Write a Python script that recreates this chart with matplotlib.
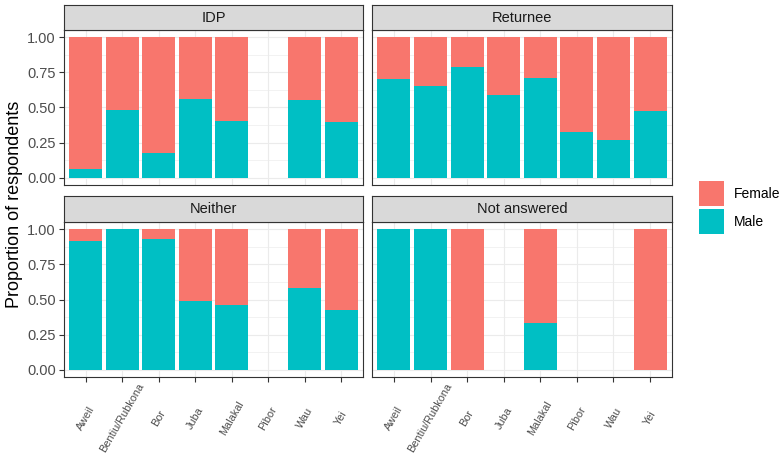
import numpy as np
import matplotlib
matplotlib.use("Agg")
import matplotlib.pyplot as plt
import matplotlib.transforms as mtransforms
from matplotlib.patches import Rectangle

plt.rcParams['font.family'] = ['Liberation Sans', 'DejaVu Sans']

# Data: share of respondents by sex, per location and displacement status
locations = ["Aweil", "Bentiu/Rubkona", "Bor", "Juba", "Malakal", "Pibor", "Wau", "Yei"]
panels = ["IDP", "Returnee", "Neither", "Not answered"]

# proportion male (None = no respondents at that location)
male_idp = [0.064, 0.483, 0.175, 0.557, 0.403, None, 0.552, 0.398]
male_returnee = [0.701, 0.654, 0.784, 0.592, 0.706, 0.327, 0.268, 0.474]
male_neither = [0.915, 1.0, 0.929, 0.486, 0.460, None, 0.583, 0.424]
male_not_answered = [1.0, 1.0, 0.0, None, 0.333, None, None, 0.0]

male_by_panel = [male_idp, male_returnee, male_neither, male_not_answered]

FEMALE = "#F8766D"
MALE = "#00BFC4"
GRID = "#EBEBEB"
BORDER = "#333333"

W, H = 784, 459
fig = plt.figure(figsize=(W / 100, H / 100), dpi=100)

def fx(px):
    return px / W

def fy(py):
    return 1 - py / H

col_x = [(64, 363), (372, 672)]
row_y = [(5, 30, 185), (196, 222, 377)]  # strip top, panel top, panel bottom

xpos = np.arange(1, len(locations) + 1)

for i, name in enumerate(panels):
    r, c = divmod(i, 2)
    x0, x1 = col_x[c]
    st, pt, pb = row_y[r]
    ax = fig.add_axes([fx(x0), fy(pb), fx(x1 - x0), (pb - pt) / H])
    sax = fig.add_axes([fx(x0), fy(pt), fx(x1 - x0), (pt - st) / H])

    male = male_by_panel[i]
    m = np.array([np.nan if v is None else v for v in male])
    f = 1 - m
    m0 = np.nan_to_num(m)
    f0 = np.nan_to_num(f)
    ax.bar(xpos, m0, width=0.9, color=MALE, zorder=2, linewidth=0)
    ax.bar(xpos, f0, bottom=m0, width=0.9, color=FEMALE, zorder=2, linewidth=0)

    ax.set_xlim(0.4, len(locations) + 0.6)
    ax.set_ylim(-0.05, 1.05)
    ax.set_yticks([0, 0.25, 0.5, 0.75, 1.0])
    ax.set_yticks([0.125, 0.375, 0.625, 0.875], minor=True)
    ax.set_xticks(xpos)
    ax.grid(True, which="major", color=GRID, linewidth=0.8, zorder=0)
    ax.grid(True, which="minor", axis="y", color=GRID, linewidth=0.45, zorder=0)
    ax.set_axisbelow(True)
    for s in ax.spines.values():
        s.set_color(BORDER)
        s.set_linewidth(0.8)
    ax.tick_params(which="minor", length=0)
    ax.tick_params(which="major", length=3.5, width=0.8, color=BORDER,
                   labelcolor="#4D4D4D", labelsize=10.5, pad=2.5)
    ax.tick_params(axis="x", labelbottom=False)

    if c == 0:
        ax.set_yticklabels(["0.00", "0.25", "0.50", "0.75", "1.00"])
    else:
        ax.tick_params(axis="y", length=0, labelleft=False)
    if r == 1:
        # rotated category labels, centred under each tick
        trans = mtransforms.blended_transform_factory(ax.transData, ax.transAxes)
        yl = -41 / (pb - pt)
        for xp, lab in zip(xpos, locations):
            ax.text(xp, yl, lab, transform=trans, rotation=60,
                    ha="center", va="center", rotation_mode="anchor",
                    fontsize=7.8, color="#4D4D4D", clip_on=False)
    else:
        ax.tick_params(axis="x", length=0)

    sax.set_xticks([])
    sax.set_yticks([])
    sax.set_facecolor("#D9D9D9")
    for s in sax.spines.values():
        s.set_color(BORDER)
        s.set_linewidth(0.8)
    sax.text(0.5, 0.5, name, ha="center", va="center", fontsize=10.5,
             color="#1A1A1A", transform=sax.transAxes)

fig.text(fx(15), fy(204), "Proportion of respondents", rotation=90,
         ha="center", va="center", fontsize=13, color="black")

# legend
for j, (lab, colr) in enumerate([("Female", FEMALE), ("Male", MALE)]):
    top = 181 + j * 28
    fig.patches.append(Rectangle((fx(699), fy(top + 25)), fx(25), 25 / H,
                                 facecolor=colr, edgecolor="none",
                                 transform=fig.transFigure, figure=fig))
    fig.text(fx(734), fy(top + 12.5), lab, ha="left", va="center",
             fontsize=10, color="black")

fig.savefig("out.png", dpi=100)
